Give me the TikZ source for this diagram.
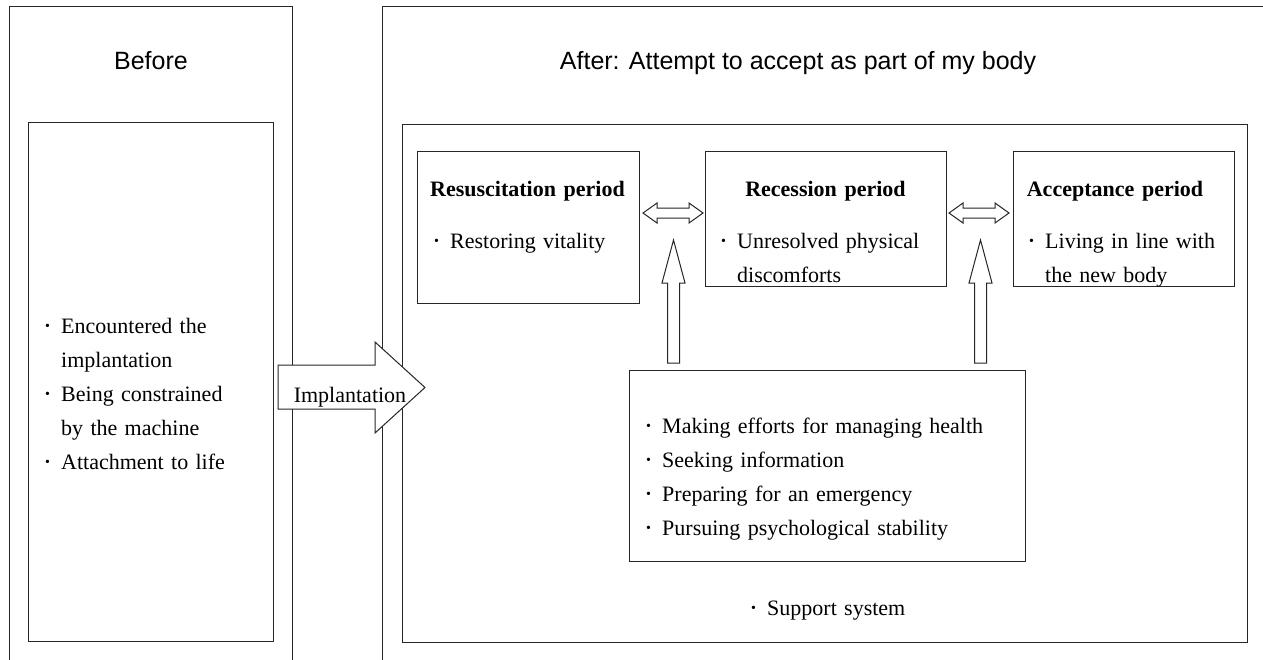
\documentclass[tikz,border=0pt]{standalone}
\usepackage{fontspec}
\setmainfont{Liberation Serif}[WordSpace=1.4]
\setsansfont{Liberation Sans}
\usetikzlibrary{fit}

% small bullet and hanging item
\newcommand{\bul}{\makebox[16pt][l]{\strut\raisebox{2.5pt}{\fontsize{14}{14}\selectfont\textbullet}}}
\newcommand{\itm}[1]{\par\hangindent=16pt\hangafter=1\noindent\bul#1\par}

\tikzset{
  frame/.style={draw=black!85, line width=1pt},
  box/.style={draw=black!85, line width=1pt, fill=white, inner sep=0pt},
  hd/.style={font=\sffamily\fontsize{25}{30}\selectfont, anchor=base, inner sep=0pt},
  ttl/.style={font=\bfseries\fontsize{22}{26}\selectfont, anchor=base, inner sep=0pt},
  txt/.style={font=\fontsize{22}{34}\selectfont, text width=420pt, align=left, inner sep=0pt, anchor=north west},
  blockarrow/.style={draw=black!85, line width=1pt, fill=white, line join=miter},
}

\begin{document}
\begin{tikzpicture}[x=1pt, y=-1pt]
\useasboundingbox (0,0) rectangle (1263,659);
\clip (0,0) rectangle (1263,659);

% outer frames
\draw[frame] (9,680) -- (9,6) -- (292,6) -- (292,680);
\draw[frame] (382,680) -- (382,6) -- (1280,6);
\node[hd] (beforehd) at (151,69) {Before};
\node[hd] (afterhd) at (798,69) {After: Attempt to accept as part of my body};

% before
\node[box, fit={(28,122) (273,641)}] (beforebox) {};
\node[txt] (beforetxt) at (45,299.2) {\itm{Encountered the\newline implantation}\itm{Being constrained\newline by the machine}\itm{Attachment to life}};

% after
\node[box, fit={(402,124) (1247,642)}] (afterbox) {};
\node[box, fit={(417,151) (639,303)}] (resbox) {};
\node[box, fit={(705,151) (946,286)}] (recbox) {};
\node[box, fit={(1013,151) (1234,286)}] (accbox) {};
\node[box, fit={(629,370) (1025,561)}] (effbox) {};

\node[ttl] (restitle) at (527.5,196) {Resuscitation period};
\node[ttl] (rectitle) at (825.5,196) {Recession period};
\node[ttl] (acctitle) at (1115,196) {Acceptance period};
\node[txt] (restxt) at (434,214.2) {\itm{Restoring vitality}};
\node[txt] (rectxt) at (721,214.2) {\itm{Unresolved physical\newline discomforts}};
\node[txt] (acctxt) at (1029,214.2) {\itm{Living in line with\newline the new body}};
\node[txt] (efftxt) at (646,399.2) {\itm{Making efforts for managing health}\itm{Seeking information}\itm{Preparing for an emergency}\itm{Pursuing psychological stability}};
\node[txt] (suptxt) at (751,581.2) {\itm{Support system}};

% block arrows
\draw[blockarrow] (643,213) -- (657,203) -- (657,208) -- (689,208) -- (689,203) -- (703,213)
  -- (689,223) -- (689,218) -- (657,218) -- (657,223) -- cycle;
\draw[blockarrow] (949,213) -- (963,203) -- (963,208) -- (995,208) -- (995,203) -- (1009,213)
  -- (995,223) -- (995,218) -- (963,218) -- (963,223) -- cycle;
\draw[blockarrow] (673.5,240) -- (685,283) -- (679.5,283) -- (679.5,363) -- (667.5,363)
  -- (667.5,283) -- (662,283) -- cycle;
\draw[blockarrow] (980.5,240) -- (992,283) -- (986.5,283) -- (986.5,363) -- (974.5,363)
  -- (974.5,283) -- (969,283) -- cycle;
\draw[blockarrow] (278,365) -- (375,365) -- (375,342) -- (425,387.5) -- (375,433) -- (375,409)
  -- (278,409) -- cycle;
\node[font=\fontsize{22}{26}\selectfont, anchor=base, inner sep=0pt] (impl) at (350,402) {Implantation};
\end{tikzpicture}
\end{document}
